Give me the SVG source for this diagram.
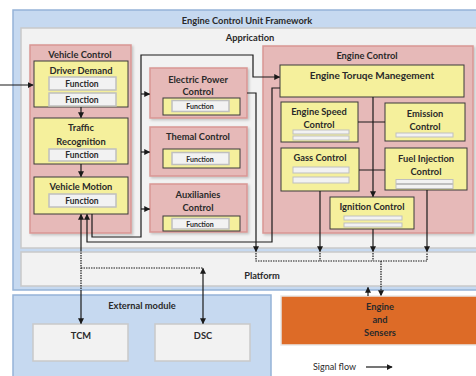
<svg xmlns="http://www.w3.org/2000/svg" width="476" height="376" viewBox="0 0 476 376">
<defs>
<style>
text{font-family:Lato,"Liberation Sans",sans-serif;fill:#2a2a2a;text-anchor:middle}
.t{font-weight:bold;font-size:9.3px}
.tl{font-weight:bold;font-size:10px}
.f{font-weight:bold;font-size:8.5px}
.fs{font-weight:bold;font-size:7px}
.blue{fill:#c6d9f0;stroke:#95b3d7;stroke-width:1.5}
.gray{fill:#f2f2f2;stroke:#c9c9c9;stroke-width:1.5}
.pink{fill:#e6b9b8;stroke:#d99694;stroke-width:1.5;filter:url(#sh)}
.yel{fill:#f5f09c;stroke:#3a3a3a;stroke-width:1}
.fn{fill:#f2f2f2;stroke:#bfbfbf;stroke-width:1.5}
.bar{fill:#f2f2f2;stroke:#bfbfbf;stroke-width:1}
.c{fill:none;stroke:#1a1a1a;stroke-width:1.2}
.d{fill:none;stroke:#1a1a1a;stroke-width:1.2;stroke-dasharray:1.5 1}
</style>
<marker id="a" viewBox="0 0 8 8" refX="7" refY="4" markerWidth="5" markerHeight="5" orient="auto-start-reverse">
<path d="M0 0L8 4L0 8z" fill="#1a1a1a"/>
</marker>
<filter id="sh" x="-10%" y="-10%" width="120%" height="120%">
<feDropShadow dx="1.5" dy="1.5" stdDeviation="1" flood-color="#000" flood-opacity="0.2"/>
</filter>
</defs>
<rect width="476" height="376" fill="#fff"/>

<g id="framework">
<rect class="blue" x="13" y="10" width="470" height="280"/>
<text class="t" x="247" y="24">Engine Control Unit Framework</text>
</g>
<g id="application">
<rect class="gray" x="21" y="28" width="462" height="220"/>
<text class="t" x="250" y="41">Apprication</text>
</g>
<g id="platform">
<rect class="gray" x="21" y="252" width="462" height="34"/>
<text class="t" x="262" y="279">Platform</text>
</g>

<g id="vehicle-control">
<rect class="pink" x="30" y="45" width="101" height="188"/>
<text class="t" x="80" y="58">Vehicle Control</text>
</g>
<g id="driver-demand">
<rect class="yel" x="34" y="61" width="94" height="46"/>
<text class="t" x="81" y="74">Driver Demand</text>
<rect class="fn" x="49" y="77" width="67" height="13"/>
<text class="f" x="82" y="87">Function</text>
<rect class="fn" x="49" y="93" width="67" height="13"/>
<text class="f" x="82" y="103">Function</text>
</g>
<g id="traffic-recognition">
<rect class="yel" x="34" y="118" width="94" height="46"/>
<text class="t" x="81" y="131">Traffic</text>
<text class="t" x="81" y="145">Recognition</text>
<rect class="fn" x="49" y="149" width="67" height="12"/>
<text class="f" x="82" y="158">Function</text>
</g>
<g id="vehicle-motion">
<rect class="yel" x="34" y="177" width="94" height="37"/>
<text class="t" x="81" y="190">Vehicle Motion</text>
<rect class="fn" x="49" y="194" width="67" height="13"/>
<text class="f" x="82" y="204">Function</text>
</g>

<g id="electric-power">
<rect class="pink" x="150" y="68" width="97" height="50"/>
<text class="t" x="198" y="83">Electric Power</text>
<text class="t" x="198" y="95">Control</text>
<rect class="yel" x="163" y="98" width="77" height="17"/>
<rect class="fn" x="172" y="100.5" width="57" height="11"/>
<text class="fs" x="200" y="109">Function</text>
</g>
<g id="thermal-control">
<rect class="pink" x="150" y="127" width="97" height="49"/>
<text class="t" x="198" y="140">Themal Control</text>
<rect class="yel" x="163" y="149" width="77" height="19"/>
<rect class="fn" x="172" y="152.5" width="57" height="12"/>
<text class="fs" x="200" y="161.5">Function</text>
</g>
<g id="auxiliaries-control">
<rect class="pink" x="150" y="184" width="97" height="48"/>
<text class="t" x="198" y="198">Auxilianies</text>
<text class="t" x="198" y="211">Control</text>
<rect class="yel" x="163" y="216" width="77" height="15"/>
<rect class="fn" x="172" y="218.5" width="57" height="10.5"/>
<text class="fs" x="200" y="226.5">Function</text>
</g>

<g id="engine-control">
<rect class="pink" x="263" y="46" width="210" height="187"/>
<text class="t" x="367" y="59">Engine Control</text>
</g>
<g id="engine-torque-management">
<rect class="yel" x="280" y="65" width="184" height="32"/>
<text class="tl" x="372" y="79">Engine Toruqe Manegement</text>
</g>
<g id="engine-speed-control">
<rect class="yel" x="281" y="102" width="77" height="40"/>
<text class="t" x="319" y="115">Engine Speed</text>
<text class="t" x="319" y="128">Control</text>
<rect class="bar" x="293" y="130" width="56" height="4"/>
<rect class="bar" x="293" y="136" width="56" height="4"/>
</g>
<g id="emission-control">
<rect class="yel" x="385" y="103" width="80" height="38"/>
<text class="t" x="425" y="117">Emission</text>
<text class="t" x="425" y="130">Control</text>
<rect class="bar" x="396" y="133" width="57" height="4"/>
</g>
<g id="gass-control">
<rect class="yel" x="281" y="148" width="78" height="43"/>
<text class="t" x="320" y="161">Gass Control</text>
<rect class="bar" x="293" y="167" width="56" height="6"/>
<rect class="bar" x="293" y="177" width="56" height="6"/>
</g>
<g id="fuel-injection-control">
<rect class="yel" x="385" y="148" width="82" height="42"/>
<text class="t" x="426" y="162">Fuel Injection</text>
<text class="t" x="426" y="175">Control</text>
<rect class="bar" x="396" y="179.5" width="57" height="4"/>
<rect class="bar" x="396" y="184.5" width="57" height="4"/>
</g>
<g id="ignition-control">
<rect class="yel" x="330" y="197" width="84" height="32"/>
<text class="t" x="372" y="210">Ignition Control</text>
<rect class="bar" x="344" y="216" width="58" height="4"/>
<rect class="bar" x="344" y="223" width="58" height="4"/>
</g>

<g id="external-module">
<rect class="blue" x="13" y="295" width="258" height="90"/>
<text class="t" x="142" y="309">External module</text>
</g>
<g id="tcm">
<rect class="gray" x="33" y="324" width="95" height="37"/>
<text class="t" x="81" y="339">TCM</text>
</g>
<g id="dsc">
<rect class="gray" x="155" y="324" width="95" height="37"/>
<text class="t" x="203" y="339">DSC</text>
</g>
<g id="engine-sensers">
<rect x="281" y="296" width="200" height="49" fill="#dd6b27" stroke="#e8e8e8" stroke-width="1.5"/>
<text class="t" x="380" y="310">Engine</text>
<text class="t" x="380" y="323">and</text>
<text class="t" x="380" y="336">Sensers</text>
</g>

<g id="connectors">
<path class="c" d="M0 85H33" marker-end="url(#a)"/>
<path class="c" d="M81 107V117.5" marker-end="url(#a)"/>
<path class="c" d="M81 164V176.5" marker-end="url(#a)"/>
<path class="c" d="M92 214V237H141V55H253V77H279.5" marker-end="url(#a)"/>
<path class="c" d="M141 94H149.5" marker-end="url(#a)"/>
<path class="c" d="M141 152H149.5" marker-end="url(#a)"/>
<path class="c" d="M141 209H149.5" marker-end="url(#a)"/>
<path class="c" d="M280 88H272V242H87V214.5" marker-end="url(#a)"/>
<path class="c" d="M247 93H256V251.5" marker-end="url(#a)"/>
<path class="c" d="M373 97V196.5" marker-end="url(#a)"/>
<path class="c" d="M358 122H385M359 170H385"/>
<path class="c" d="M320 191V251.5" marker-end="url(#a)"/>
<path class="c" d="M373 229V251.5" marker-end="url(#a)"/>
<path class="c" d="M427 190V251.5" marker-end="url(#a)"/>
<path class="d" d="M256 253V261H427V253M320 253V261M373 253V261"/>
<path class="d" d="M381 261V295.5" marker-end="url(#a)"/>
<path class="c" d="M368 296V287.5" marker-end="url(#a)"/>
<path class="c" d="M81 250V214.5" marker-end="url(#a)"/>
<path class="d" d="M81 250V290"/>
<path class="c" d="M81 290V323.5" marker-end="url(#a)"/>
<path class="d" d="M81 268H203"/>
<path class="c" d="M203 268.5V323.5" marker-start="url(#a)" marker-end="url(#a)"/>
<text x="313" y="370" style="font-size:9px;text-anchor:start">Signal flow</text>
<path class="c" d="M366 367H392" marker-end="url(#a)"/>
</g>
</svg>
